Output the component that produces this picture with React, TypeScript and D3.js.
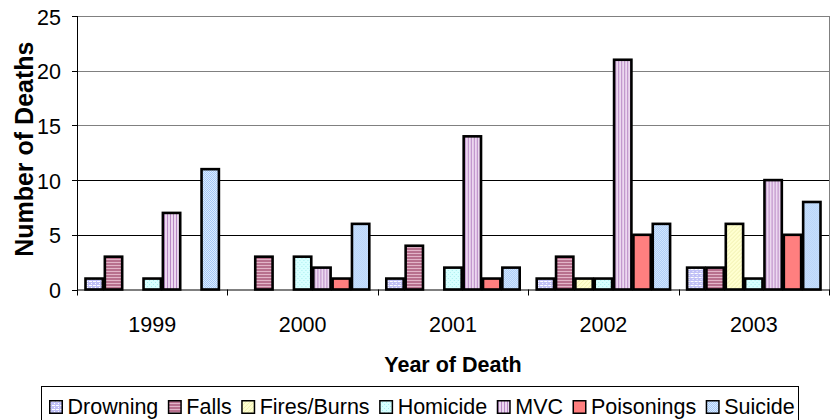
import React from 'react';
import * as d3 from 'd3';

const years = ['1999', '2000', '2001', '2002', '2003'];
const seriesNames = ['Drowning', 'Falls', 'Fires/Burns', 'Homicide', 'MVC', 'Poisonings', 'Suicide'];
const drowning = [1, 0, 1, 1, 2];
const falls = [3, 3, 4, 3, 2];
const firesBurns = [0, 0, 0, 1, 6];
const homicide = [1, 3, 2, 1, 1];
const mvc = [7, 2, 14, 21, 10];
const poisonings = [0, 1, 1, 5, 5];
const suicide = [11, 6, 2, 6, 8];
const yTicks = [0, 5, 10, 15, 20, 25];

const seriesValues = [drowning, falls, firesBurns, homicide, mvc, poisonings, suicide];
const patternIds = ['pDrown', 'pFalls', 'pFires', 'pHomi', 'pMvc', 'pPois', 'pSuic'];

const W = 830;
const H = 420;
const left = 77;
const right = 829;
const top = 16;
const bottom = 289.5;
const FONT = '"Liberation Sans", Arial, sans-serif';

function measure(text: string, font: string): number {
  const c = document.createElement('canvas');
  const ctx = c.getContext('2d');
  if (!ctx) return text.length * 10;
  ctx.font = font;
  return ctx.measureText(text).width;
}

export default function App() {
  const x = d3.scaleBand<string>().domain(years).range([left, right]).paddingInner(0).paddingOuter(0);
  const cw = x.bandwidth();
  const gap = 15;
  const xi = d3.scaleBand<string>().domain(seriesNames).range([gap / 2, cw - gap / 2]).padding(0);
  const y = d3.scaleLinear().domain([0, 25]).range([bottom, top]);

  // legend layout
  const legendSize = 21.5;
  const legendFont = `${legendSize}px "Liberation Sans"`;
  let lx = 49;
  const legendItems = seriesNames.map((name, i) => {
    const item = { name, i, x: lx };
    lx += 14 + 4.5 + measure(name, legendFont) + 9.5;
    return item;
  });

  const grid = yTicks.filter((t) => t > 0);

  return (
    <svg width={W} height={H} style={{ position: 'absolute', left: 0, top: 0, background: '#fff' }} fontFamily={FONT}>
      <defs>
        <pattern id="pDrown" width="4" height="4" patternUnits="userSpaceOnUse">
          <rect width="4" height="4" fill="#c0c0f6" />
          <rect x="0" y="1" width="3" height="1" fill="#ffffff" />
          <rect x="2" y="3" width="1" height="1" fill="#ffffff" />
        </pattern>
        <pattern id="pFalls" width="4" height="3" patternUnits="userSpaceOnUse">
          <rect width="4" height="3" fill="#b8708e" />
          <rect y="1" width="4" height="1" fill="#e2b4c8" />
        </pattern>
        <pattern id="pFires" width="4" height="4" patternUnits="userSpaceOnUse">
          <rect width="4" height="4" fill="#ffffd0" />
          <rect x="0" y="3" width="1" height="1" fill="#f0f0b0" />
          <rect x="1" y="2" width="1" height="1" fill="#f0f0b0" />
          <rect x="2" y="1" width="1" height="1" fill="#f0f0b0" />
          <rect x="3" y="0" width="1" height="1" fill="#f0f0b0" />
        </pattern>
        <pattern id="pHomi" width="4" height="4" patternUnits="userSpaceOnUse">
          <rect width="4" height="4" fill="#d8ffff" />
          <rect x="0" y="0" width="1" height="1" fill="#a8eeee" />
          <rect x="2" y="2" width="1" height="1" fill="#a8eeee" />
        </pattern>
        <pattern id="pMvc" width="3" height="4" patternUnits="userSpaceOnUse">
          <rect width="3" height="4" fill="#ecd8f0" />
          <rect x="0" width="1" height="4" fill="#b888c4" />
        </pattern>
        <pattern id="pPois" width="4" height="4" patternUnits="userSpaceOnUse">
          <rect width="4" height="4" fill="#ff7f7f" />
        </pattern>
        <pattern id="pSuic" width="2" height="2" patternUnits="userSpaceOnUse">
          <rect width="2" height="2" fill="#a4c8f6" />
          <rect x="0" y="0" width="1" height="1" fill="#dcecff" />
          <rect x="1" y="1" width="1" height="1" fill="#dcecff" />
        </pattern>
      </defs>

      {/* gridlines */}
      {grid.map((t) => (
        <line key={t} x1={left} x2={right} y1={Math.round(y(t)) + 0.5} y2={Math.round(y(t)) + 0.5}
          stroke={t >= 15 ? '#808080' : '#000'} strokeWidth={1} />
      ))}
      {/* right border */}
      <line x1={right + 0.5} x2={right + 0.5} y1={top} y2={bottom} stroke="#808080" strokeWidth={1} />

      {/* bars */}
      {years.map((yr, ci) => (
        <g key={yr} transform={`translate(${x(yr)},0)`}>
          {seriesNames.map((s, si) => {
            const v = seriesValues[si][ci];
            if (!v) return null;
            return (
              <rect key={s} x={xi(s)! + 1} y={y(v)} width={xi.bandwidth() - 2} height={bottom - y(v)}
                fill={`url(#${patternIds[si]})`} stroke="#000" strokeWidth={2.6} />
            );
          })}
        </g>
      ))}

      {/* axes */}
      <line x1={left + 0.5} x2={left + 0.5} y1={top} y2={bottom + 0.5} stroke="#000" strokeWidth={1} />
      <line x1={left} x2={right + 1} y1={bottom + 0.5} y2={bottom + 0.5} stroke="#000" strokeWidth={1} />
      {yTicks.map((t) => (
        <g key={t}>
          <line x1={left - 5} x2={left} y1={Math.round(y(t)) + 0.5} y2={Math.round(y(t)) + 0.5} stroke="#000" />
          <text x={61} y={y(t) + 1} dy="0.35em" textAnchor="end" fontSize={21.5} fill="#000">{t}</text>
        </g>
      ))}
      {[...years.map((yr) => x(yr)!), right].map((px, i) => (
        <line key={i} x1={Math.round(px) + 0.5} x2={Math.round(px) + 0.5} y1={bottom} y2={bottom + 6} stroke="#000" />
      ))}
      {years.map((yr) => (
        <text key={yr} x={x(yr)! + cw / 2} y={332} textAnchor="middle" fontSize={21.5} fill="#000">{yr}</text>
      ))}

      {/* titles */}
      <text x={(left + right) / 2} y={372} textAnchor="middle" fontSize={21.5} fontWeight="bold" fill="#000">Year of Death</text>
      <text transform={`translate(33,${(41.7 + 256.7) / 2}) rotate(-90)`} textAnchor="middle" fontSize={25} fontWeight="bold" fill="#000">Number of Deaths</text>

      {/* legend */}
      <rect x={41.5} y={386.5} width={757} height={40} fill="none" stroke="#000" strokeWidth={1} />
      {legendItems.map((it) => (
        <g key={it.name}>
          <rect x={it.x + 0.75} y={400.75} width={12.5} height={12.5} fill={`url(#${patternIds[it.i]})`} stroke="#000" strokeWidth={1.5} />
          <text x={it.x + 18.5} y={413.5} fontSize={legendSize} fill="#000">{it.name}</text>
        </g>
      ))}
    </svg>
  );
}
